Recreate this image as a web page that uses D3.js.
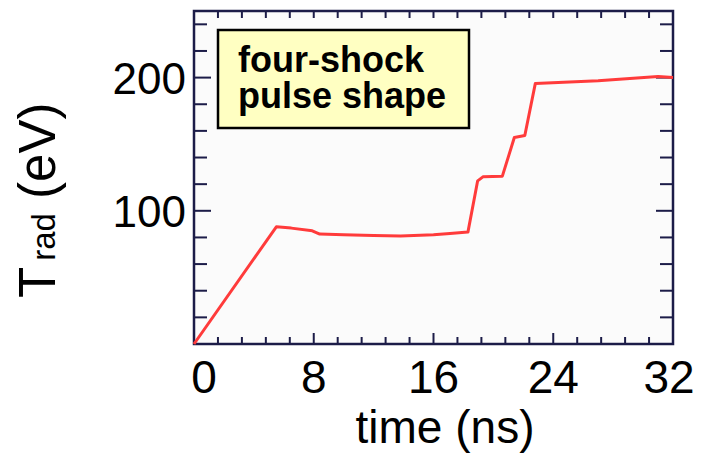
<!DOCTYPE html>
<html>
<head>
<meta charset="utf-8">
<script src="https://cdn.jsdelivr.net/npm/d3@7"></script>
<style>
  html, body { margin: 0; padding: 0; background: #fff; }
  svg { display: block; font-family: "Liberation Sans", Arial, sans-serif; }
</style>
</head>
<body>
<div id="chart"></div>
<script>
// pulse shape
const timeNs = [0, 5.5, 6.5, 7.9, 8.4, 10, 12, 13.8, 16, 17.1, 18.3, 18.95, 19.3, 20.6, 21.4, 22.1, 22.8, 27, 31, 32];
const tradEv = [0, 88, 87, 85, 82.5, 82, 81.5, 81, 82, 83, 84, 122.5, 125.5, 126, 155, 156.5, 195.5, 197.7, 200.8, 200];
const xTickLabels = [0, 8, 16, 24, 32];
const yTickLabels = [100, 200];
const legendLines = ["four-shock", "pulse shape"];

const W = 702, H = 457;
const margin = { top: 11, right: 29, bottom: 113, left: 194 };
const axisColor = "#1c1c48";

const svg = d3.select("#chart").append("svg")
    .attr("width", W)
    .attr("height", H);

const x = d3.scaleLinear().domain([0, 32]).range([margin.left, W - margin.right]);
const y = d3.scaleLinear().domain([0, 250]).range([H - margin.bottom, margin.top]);

// plot background
svg.append("rect")
    .attr("x", x(0)).attr("y", y(250))
    .attr("width", x(32) - x(0)).attr("height", y(0) - y(250))
    .attr("fill", "#fbfbfb");

// minor ticks
const xMinor = d3.range(0, 32.01, 1.6);
const yMinor = d3.range(20, 250, 20);

const ticks = svg.append("g").attr("stroke", axisColor).attr("stroke-width", 2);

ticks.selectAll(".bt").data(xMinor.slice(1, -1)).enter().append("line")
    .attr("x1", d => x(d)).attr("x2", d => x(d))
    .attr("y1", y(0)).attr("y2", d => y(0) - (xTickLabels.includes(Math.round(d * 10) / 10) ? 11 : 7));

ticks.selectAll(".tt").data(xMinor.slice(1, -1)).enter().append("line")
    .attr("x1", d => x(d)).attr("x2", d => x(d))
    .attr("y1", y(250)).attr("y2", y(250) + 7);

ticks.selectAll(".lt").data(yMinor).enter().append("line")
    .attr("x1", x(0)).attr("x2", d => x(0) + (d % 100 === 0 ? 17 : 13))
    .attr("y1", d => y(d)).attr("y2", d => y(d));

ticks.selectAll(".rt").data(yMinor).enter().append("line")
    .attr("x1", x(32)).attr("x2", d => x(32) - (d % 100 === 0 ? 17 : 13))
    .attr("y1", d => y(d)).attr("y2", d => y(d));

// frame
svg.append("rect")
    .attr("x", x(0)).attr("y", y(250))
    .attr("width", x(32) - x(0)).attr("height", y(0) - y(250))
    .attr("fill", "none")
    .attr("stroke", axisColor)
    .attr("stroke-width", 2.5);

// the pulse
const line = d3.line()
    .x((d, i) => x(timeNs[i]))
    .y(d => y(d));

svg.append("path")
    .datum(tradEv)
    .attr("d", line)
    .attr("fill", "none")
    .attr("stroke", "#ff3b3b")
    .attr("stroke-width", 3)
    .attr("stroke-linejoin", "round");

// tick labels
svg.selectAll(".xl").data(xTickLabels).enter().append("text")
    .attr("x", d => x(d) + (d === 0 ? 10 : d === 32 ? -4 : 0))
    .attr("y", 393)
    .attr("text-anchor", "middle")
    .style("font-size", "46px")
    .text(d => d);

svg.selectAll(".yl").data(yTickLabels).enter().append("text")
    .attr("x", 186)
    .attr("y", d => y(d) + 16)
    .attr("text-anchor", "end")
    .style("font-size", "44px")
    .text(d => d);

// axis titles
svg.append("text")
    .attr("x", 445)
    .attr("y", 443)
    .attr("text-anchor", "middle")
    .style("font-size", "46px")
    .text("time (ns)");

const ylab = svg.append("text")
    .attr("transform", "translate(55,298) rotate(-90)")
    .attr("text-anchor", "start");
ylab.append("tspan").style("font-size", "51px").text("T");
ylab.append("tspan").attr("dx", 6).style("font-size", "33px").text("rad");
ylab.append("tspan").style("font-size", "51px").text(" (eV)");

// legend box
svg.append("rect")
    .attr("x", 218).attr("y", 30)
    .attr("width", 251).attr("height", 98)
    .attr("fill", "#ffffc2")
    .attr("stroke", "#000")
    .attr("stroke-width", 2.5);

svg.selectAll(".lg").data(legendLines).enter().append("text")
    .attr("x", 238)
    .attr("y", (d, i) => 72 + i * 36)
    .style("font-size", "36px")
    .style("font-weight", "bold")
    .text(d => d);
</script>
</body>
</html>
